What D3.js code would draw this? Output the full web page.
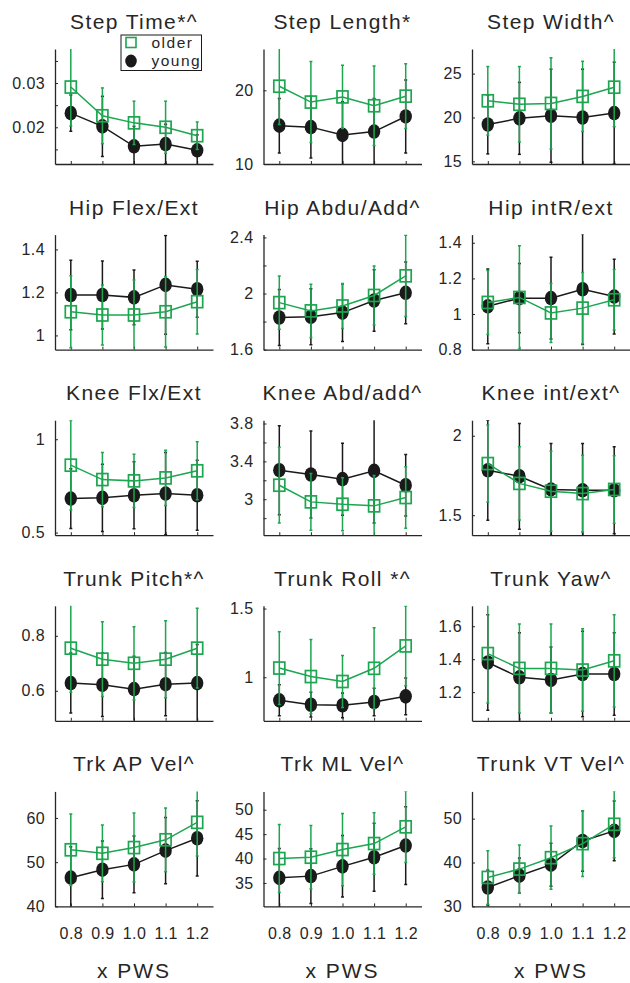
<!DOCTYPE html>
<html><head><meta charset="utf-8">
<script src="https://cdn.jsdelivr.net/npm/d3@7"></script>
<style>body{margin:0;background:#fff}svg{display:block}</style>
</head><body>
<script>
// ---------- data ----------
const panelTitles = ["Step Time*^","Step Length*","Step Width^",
  "Hip Flex/Ext","Hip Abdu/Add^","Hip intR/ext",
  "Knee Flx/Ext","Knee Abd/add^","Knee int/ext^",
  "Trunk Pitch*^","Trunk Roll *^","Trunk Yaw^",
  "Trk AP Vel^","Trk ML Vel^","Trunk VT Vel^"];
const xCategories = [0.8,0.9,1.0,1.1,1.2];
const xTickLabels = ["0.8","0.9","1.0","1.1","1.2"];
const seriesNames = ["older","young"];
const xAxisTitle = "x PWS";

const yDomains = [[0.0117,0.0377],[10,25.6],[14.7,27.8],
  [0.934,1.469],[1.6,2.42],[0.8,1.446],
  [0.486,1.102],[2.62,3.835],[1.374,2.098],
  [0.491,0.909],[0.683,1.52],[1.026,1.724],
  [40,66],[30.2,53.75],[30,56.2]];
const yTicks = [[0.015,0.02,0.025,0.03,0.035],[10,20],[15,20,25],
  [1,1.2,1.4],[1.6,1.8,2,2.2,2.4],[0.8,1,1.2,1.4],
  [0.5,1],[2.8,3,3.2,3.4,3.6,3.8],[1.5,2],
  [0.6,0.8],[1,1.5],[1.2,1.4,1.6],
  [40,50,60],[35,40,45,50],[30,40,50]];
const yTickLabels = [["","0.02","","0.03",""],["10","20"],["15","20","25"],
  ["1","1.2","1.4"],["1.6","","2","","2.4"],["0.8","1","1.2","1.4"],
  ["0.5","1"],["","3","","3.4","","3.8"],["1.5","2"],
  ["0.6","0.8"],["1","1.5"],["1.2","1.4","1.6"],
  ["40","50","60"],["35","40","45","50"],["30","40","50"]];

const olderMean = [[0.0291,0.0226,0.0210,0.0200,0.0181],[20.55,18.4,19.1,17.9,19.2],[21.9,21.5,21.6,22.4,23.45],
  [1.11,1.095,1.095,1.11,1.157],[1.935,1.876,1.911,1.986,2.126],[1.065,1.093,1.006,1.033,1.08],
  [0.861,0.784,0.777,0.793,0.831],[3.148,2.972,2.947,2.93,3.018],[1.825,1.7,1.651,1.636,1.662],
  [0.755,0.715,0.70,0.715,0.755],[1.067,1.005,0.969,1.065,1.228],[1.434,1.344,1.344,1.334,1.39],
  [52.8,52.0,53.3,55.06,59.0],[40.0,40.27,41.84,43.07,46.5],[36.6,38.5,41.1,44.3,48.7]];
const olderSD = [[0.0088,0.0063,0.0049,0.0059,0.0031],[5.2,5.5,4.3,5.4,4.4],[3.9,4.3,5.2,4.0,4.5],
  [0.167,0.14,0.163,0.164,0.15],[0.19,0.19,0.16,0.21,0.29],[0.18,0.29,0.166,0.2,0.17],
  [0.24,0.145,0.143,0.148,0.155],[0.40,0.30,0.28,0.32,0.325],[0.242,0.231,0.252,0.242,0.212],
  [0.16,0.136,0.133,0.14,0.145],[0.265,0.27,0.19,0.295,0.29],[0.3,0.27,0.27,0.25,0.28],
  [8.1,6.4,7.8,7.2,7.6],[6.95,6.5,7.4,6.3,7.3],[6.1,5.5,7.2,7.5,7.6]];
const youngMean = [[0.0232,0.0202,0.0157,0.0162,0.0148],[15.2,15.0,13.95,14.4,16.45],[19.2,19.9,20.2,20.0,20.5],
  [1.188,1.188,1.177,1.235,1.215],[1.829,1.834,1.864,1.95,2.005],[1.043,1.089,1.089,1.139,1.098],
  [0.682,0.686,0.7,0.709,0.7],[3.307,3.261,3.212,3.3,3.148],[1.783,1.745,1.662,1.657,1.657],
  [0.628,0.622,0.606,0.624,0.628],[0.832,0.80,0.796,0.82,0.861],[1.38,1.29,1.274,1.31,1.31],
  [46.5,48.3,49.5,52.6,55.4],[36.05,36.4,38.4,40.27,42.66],[34.3,37.0,39.5,44.9,47.2]];
const youngSD = [[0.0041,0.0068,0.0045,0.0045,0.0035],[3.7,4.2,4.5,4.5,4.95],[3.35,4.1,5.3,5.5,5.8],
  [0.162,0.158,0.127,0.23,0.13],[0.2,0.2,0.206,0.22,0.22],[0.21,0.195,0.23,0.31,0.21],
  [0.16,0.18,0.18,0.22,0.187],[0.47,0.46,0.38,0.55,0.325],[0.315,0.333,0.29,0.294,0.274],
  [0.109,0.115,0.12,0.115,0.14],[0.113,0.09,0.09,0.1,0.134],[0.29,0.27,0.2,0.26,0.25],
  [7,6.5,6.4,7.5,8.5],[6,5.6,6.3,6.95,7.96],[4,4,4.9,6.9,6.8]];

// ---------- layout / style ----------
const W = 630, H = 983;
const colLeft = [55, 263.5, 472];
const rowTop = [49, 234.6, 420.2, 605.8, 791.4];
const pw = 158, ph = 115;
const green = "#1ba64f", dark = "#1a1a1a", textColor = "#262626";
const font = "'Liberation Sans', Arial, Helvetica, sans-serif";

const svg = d3.select("body").append("svg").attr("width", W).attr("height", H)
  .style("font-family", font);

panelTitles.forEach((title, i) => {
  const r = Math.floor(i / 3), c = i % 3;
  const g = svg.append("g").attr("transform", `translate(${colLeft[c]},${rowTop[r]})`);
  const x = d3.scaleLinear().domain([0.75, 1.25]).range([0, pw]);
  const y = d3.scaleLinear().domain(yDomains[i]).range([ph, 0]);

  const clipId = "clip" + i;
  g.append("clipPath").attr("id", clipId).append("rect")
    .attr("x", -8).attr("y", 0).attr("width", pw + 16).attr("height", ph);

  // axes
  const yAx = d3.axisLeft(y).tickValues(yTicks[i]).tickSizeInner(-3).tickSizeOuter(0)
    .tickPadding(10).tickFormat((d, j) => yTickLabels[i][j]);
  const gy = g.append("g").call(yAx);
  const xAx = d3.axisBottom(x).tickValues(xCategories).tickSizeInner(-3).tickSizeOuter(0)
    .tickPadding(21).tickFormat((d, j) => r === 4 ? xTickLabels[j] : "");
  const gx = g.append("g").attr("transform", `translate(0,${ph})`).call(xAx);
  [gx, gy].forEach(a => {
    a.select(".domain").attr("stroke", textColor).attr("stroke-width", 1.3);
    a.selectAll(".tick line").attr("stroke", textColor).attr("stroke-width", 1);
    a.selectAll(".tick text").attr("fill", textColor).style("font-size", "16px")
      .style("font-family", font).style("letter-spacing", "0.4px");
  });

  // title
  g.append("text").attr("x", pw / 2).attr("y", -20).attr("text-anchor", "middle")
    .attr("fill", textColor).style("font-size", "21px").style("letter-spacing", "1.4px")
    .text(title);

  if (r === 4) {
    g.append("text").attr("x", pw / 2).attr("y", 187).attr("text-anchor", "middle")
      .attr("fill", textColor).style("font-size", "21px").style("letter-spacing", "2px")
      .text(xAxisTitle);
  }

  const drawSeries = (means, sds, color, isOlder) => {
    const pts = xCategories.map((xv, j) => ({x: xv, m: means[j], s: sds[j]}));
    const cg = g.append("g").attr("clip-path", `url(#${clipId})`);
    // error bars
    cg.selectAll("line.eb").data(pts).join("line")
      .attr("x1", d => x(d.x)).attr("x2", d => x(d.x))
      .attr("y1", d => y(d.m - d.s)).attr("y2", d => y(d.m + d.s))
      .attr("stroke", color).attr("stroke-width", 1.5);
    ["lo", "hi"].forEach(k => {
      cg.selectAll("line.cap" + k).data(pts).join("line")
        .attr("x1", d => x(d.x) - 1.5).attr("x2", d => x(d.x) + 1.5)
        .attr("y1", d => y(k === "lo" ? d.m - d.s : d.m + d.s))
        .attr("y2", d => y(k === "lo" ? d.m - d.s : d.m + d.s))
        .attr("stroke", color).attr("stroke-width", 1.5);
    });
    // line
    cg.append("path").datum(pts)
      .attr("d", d3.line().x(d => x(d.x)).y(d => y(d.m)))
      .attr("fill", "none").attr("stroke", color).attr("stroke-width", 1.5);
    // markers
    if (isOlder) {
      g.selectAll(null).data(pts).join("rect")
        .attr("x", d => x(d.x) - 5.5).attr("y", d => y(d.m) - 6)
        .attr("width", 11).attr("height", 12)
        .attr("fill", "none").attr("stroke", color).attr("stroke-width", 1.7);
    } else {
      g.selectAll(null).data(pts).join("ellipse")
        .attr("cx", d => x(d.x)).attr("cy", d => y(d.m))
        .attr("rx", 6.2).attr("ry", 7.3).attr("fill", color);
    }
  };
  drawSeries(youngMean[i], youngSD[i], dark, false);
  drawSeries(olderMean[i], olderSD[i], green, true);

  // legend in first panel
  if (i === 0) {
    const lg = svg.append("g");
    lg.append("rect").attr("x", 121).attr("y", 35).attr("width", 80.5).attr("height", 35.5)
      .attr("fill", "#fff").attr("stroke", dark).attr("stroke-width", 1);
    lg.append("rect").attr("x", 126).attr("y", 37.5).attr("width", 10).attr("height", 10)
      .attr("fill", "none").attr("stroke", green).attr("stroke-width", 1.6);
    lg.append("ellipse").attr("cx", 131).attr("cy", 61).attr("rx", 5.8).attr("ry", 6.5).attr("fill", dark);
    lg.append("text").attr("x", 151.5).attr("y", 48).attr("fill", textColor)
      .style("font-size", "15.5px").style("letter-spacing", "1.5px").text(seriesNames[0]);
    lg.append("text").attr("x", 151.5).attr("y", 65.5).attr("fill", textColor)
      .style("font-size", "15.5px").style("letter-spacing", "1.5px").text(seriesNames[1]);
  }
});
</script>
</body></html>
